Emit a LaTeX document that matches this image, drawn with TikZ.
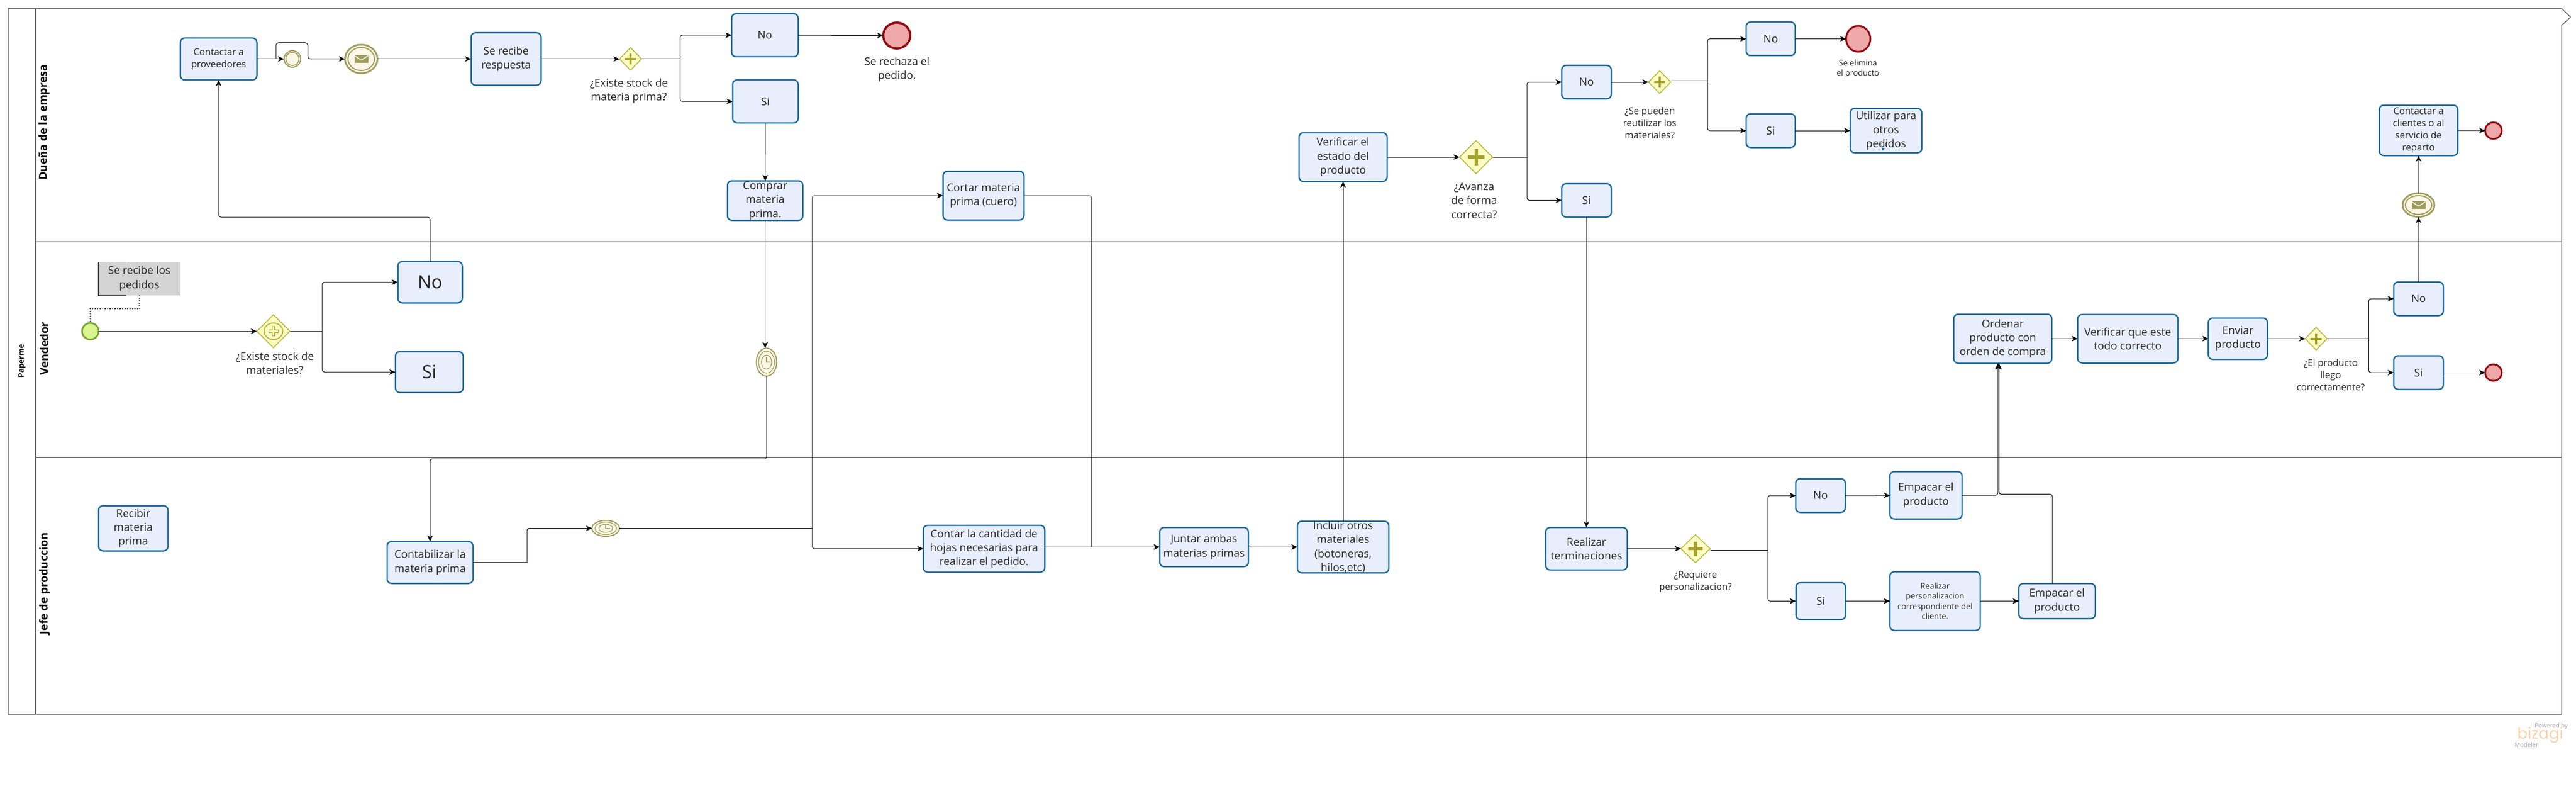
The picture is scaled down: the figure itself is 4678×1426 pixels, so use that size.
\documentclass[tikz,border=0pt]{standalone}
\usepackage{fontspec}
\setmainfont{Open Sans}
\newfontfamily\logofont{Poppins}
\usetikzlibrary{arrows.meta,shapes.geometric}
\definecolor{azul}{HTML}{1B6A9A}
\definecolor{celeste}{HTML}{E9EEFC}
\definecolor{marco}{HTML}{555555}
\definecolor{oro}{HTML}{A09C60}
\definecolor{crema}{HTML}{FBF7E6}
\definecolor{amarillo}{HTML}{FBFBC4}
\definecolor{oliva}{HTML}{B8B840}
\definecolor{cruz}{HTML}{A5A52A}
\definecolor{rojo}{HTML}{8E0B12}
\definecolor{rosa}{HTML}{EFA8A8}
\definecolor{verde}{HTML}{76A52F}
\definecolor{lima}{HTML}{DAF58F}
\definecolor{naranja}{HTML}{F9D2AC}
\tikzset{
  f13/.style  = {font=\fontsize{14.5}{18.5}\selectfont},
  f16/.style  = {font=\fontsize{17}{21.8}\selectfont},
  f19/.style  = {font=\fontsize{19.5}{25.3}\selectfont},
  f33/.style  = {font=\fontsize{33}{40}\selectfont},
  tarea/.style = {draw=azul, fill=celeste, line width=2.5pt, rounded corners=8pt,
                  align=center, inner sep=0pt, outer sep=0pt, text=black!85},
  texto/.style = {align=center, inner sep=0pt, text=black!85},
  carril/.style = {inner sep=0pt, rotate=90, font=\fontsize{20}{24}\bfseries\selectfont},
  puerta/.style = {draw=oliva, fill=amarillo, line width=1.6pt, diamond, aspect=1,
                   inner sep=0pt, outer sep=0pt},
  evento/.style = {ellipse, inner sep=0pt, outer sep=0pt},
  inicio/.style = {evento, draw=verde, fill=lima, line width=3pt},
  fin/.style    = {evento, draw=rojo, fill=rosa, line width=3.2pt},
  medio/.style  = {evento, draw=oro, fill=crema, line width=2pt},
  aro/.style    = {draw=oro, line width=1.6pt},
  linea/.style  = {draw=black, line width=1pt, rounded corners=4pt},
  flecha/.style = {linea, -{Stealth[length=11pt,width=10pt,inset=3pt]}},
  borde/.style  = {draw=marco, line width=1.3pt}
}

\begin{document}
\begin{tikzpicture}[x=1pt,y=-1pt]
\useasboundingbox (0,0) rectangle (4678,1426);

% pool y carriles
\draw[borde] (15,15.5) -- (4652,15.5) -- (4668,31) -- (4652,46) -- (4652,1296) -- (15,1296) -- cycle;
\draw[borde] (65,15.5) -- (65,1296);
\draw[borde] (65,438.5) -- (4652,438.5);
\draw[borde] (65,830) -- (4652,830);
\node[carril, font=\fontsize{13.5}{16}\bfseries\selectfont] (pool) at (40,655) {Paperme};
\node[carril] (lane1) at (80,222) {Dueña de la empresa};
\node[carril] (lane2) at (80,632) {Vendedor};
\node[carril] (lane3) at (81,1059) {Jefe de produccion};

% carril de la dueña
\node[tarea, f16, minimum width=139, minimum height=76] (contactar) at (397,107) {Contactar a\\proveedores};
\node[medio, minimum width=30, minimum height=30] (ev0) at (531,107) {};
\node[medio, line width=3pt, minimum width=59, minimum height=52] (correo1) at (656,107) {};
\node[tarea, f19, minimum width=127, minimum height=95] (recibe) at (919,107) {Se recibe\\respuesta};
\node[puerta, minimum width=40, minimum height=41] (g1) at (1145,107) {};
\node[texto, f19] (tg1) at (1142,165) {¿Existe stock de\\materia prima?};
\node[tarea, f19, minimum width=121, minimum height=78] (no1) at (1389,64) {No};
\node[tarea, f19, minimum width=119, minimum height=78] (si1) at (1390,184) {Si};
\node[fin, line width=4pt, minimum width=49, minimum height=47] (fin1) at (1628.5,64.5) {};
\node[texto, f19] (tfin1) at (1629,126) {Se rechaza el\\pedido.};
\node[tarea, f19, minimum width=137, minimum height=71.5] (comprar) at (1389.5,364) {Comprar\\materia\\prima.};
\node[tarea, f19, minimum width=147, minimum height=88.5] (cortar) at (1786,355) {Cortar materia\\prima (cuero)};
\node[tarea, f19, minimum width=160, minimum height=88.5] (verificar) at (2439,285) {Verificar el\\estado del\\producto};
\node[puerta, minimum width=60, minimum height=60] (ga) at (2680.5,285) {};
\node[texto, f19] (tga) at (2677,364) {¿Avanza\\de forma\\correcta?};
\node[tarea, f19, minimum width=90, minimum height=60.5] (no2) at (2881,149) {No};
\node[tarea, f19, minimum width=90, minimum height=60.5] (si2) at (2881,363.5) {Si};
\node[puerta, minimum width=41, minimum height=41] (gr) at (3014,149) {};
\node[texto, f16] (tgr) at (2996,223) {¿Se pueden\\reutilizar los\\materiales?};
\node[tarea, f19, minimum width=89, minimum height=61] (no3) at (3215.5,70.5) {No};
\node[tarea, f19, minimum width=89, minimum height=61] (si3) at (3215.5,237) {Si};
\node[fin, minimum width=44, minimum height=47] (fin2) at (3374.5,70.5) {};
\node[texto, f13] (tfin2) at (3374,124.5) {Se elimina\\el producto};
\node[tarea, f19, minimum width=130, minimum height=80.5] (utilizar) at (3425,237) {Utilizar para\\otros\\pedidos};
\node[tarea, f16, minimum width=142.5, minimum height=91.5] (clientes) at (4392,236.5) {Contactar a\\clientes o al\\servicio de\\reparto};
\node[fin, minimum width=30, minimum height=30] (fin3) at (4528,237) {};
\node[medio, line width=3pt, minimum width=58, minimum height=43] (correo2) at (4392,372) {};

% carril del vendedor
\node[fill=black!17, inner sep=0pt, outer sep=0pt, minimum width=150, minimum height=61, align=center, f19, text=black!85] (anota) at (253,505.5) {Se recibe los\\pedidos};
\node[inicio, minimum width=30, minimum height=30] (arranque) at (164,601) {};
\node[puerta, minimum width=60, minimum height=60] (gv) at (496.5,601) {};
\node[texto, f19] (tgv) at (499,659) {¿Existe stock de\\materiales?};
\node[tarea, f33, minimum width=117, minimum height=75] (nov) at (781,512) {No};
\node[tarea, f33, minimum width=123, minimum height=74] (siv) at (779.5,675) {Si};
\node[medio, minimum width=37, minimum height=51] (tiempo1) at (1392,657) {};
\node[tarea, f19, minimum width=178, minimum height=89] (ordenar) at (3637,614.5) {Ordenar\\producto con\\orden de compra};
\node[tarea, f19, minimum width=182, minimum height=88] (revisar) at (3864,614.5) {Verificar que este\\todo correcto};
\node[tarea, f19, minimum width=107.5, minimum height=75] (enviar) at (4064,614.5) {Enviar\\producto};
\node[puerta, minimum width=40, minimum height=41] (ge) at (4206,614.5) {};
\node[texto, f16] (tge) at (4232.5,680) {¿El producto\\llego\\correctamente?};
\node[tarea, f19, minimum width=90, minimum height=61] (no5) at (4392,542) {No};
\node[tarea, f19, minimum width=90, minimum height=61] (si5) at (4392,676) {Si};
\node[fin, minimum width=30, minimum height=30] (fin4) at (4528,676) {};

% carril de produccion
\node[tarea, f19, minimum width=126, minimum height=82] (recibir) at (242,958.5) {Recibir\\materia\\prima};
\node[tarea, f19, minimum width=156, minimum height=76] (contabilizar) at (781,1020.5) {Contabilizar la\\materia prima};
\node[medio, minimum width=50, minimum height=29] (tiempo2) at (1100,958.5) {};
\node[tarea, f19, minimum width=220.5, minimum height=85] (contar) at (1787,995.5) {Contar la cantidad de\\hojas necesarias para\\realizar el pedido.};
\node[tarea, f19, minimum width=161, minimum height=71] (juntar) at (2186.5,992.5) {Juntar ambas\\materias primas};
\node[tarea, f19, minimum width=166, minimum height=92.5] (incluir) at (2439,992.5) {Incluir otros\\materiales\\(botoneras,\\hilos,etc)};
\node[tarea, f19, minimum width=148, minimum height=77] (terminar) at (2881,995.5) {Realizar\\terminaciones};
\node[puerta, minimum width=53, minimum height=51] (gp) at (3079,995.5) {};
\node[texto, f16] (tgp) at (3079,1055.5) {¿Requiere\\personalizacion?};
\node[tarea, f19, minimum width=90, minimum height=61] (no4) at (3306,899) {No};
\node[tarea, f19, minimum width=90, minimum height=67] (si4) at (3306.5,1090.5) {Si};
\node[tarea, f19, minimum width=131, minimum height=86] (empacar1) at (3497.5,898.5) {Empacar el\\producto};
\node[tarea, f13, minimum width=164, minimum height=106.5] (personal) at (3514,1090.5) {Realizar\\personalizacion\\correspondiente del\\cliente.};
\node[tarea, f19, minimum width=139, minimum height=63.5] (empacar2) at (3735.5,1090.5) {Empacar el\\producto};

% logo
\node[texto, text=black!35, font=\fontsize{11}{13}\selectfont] (powered) at (4633,1318) {Powered by};
\node[texto, text=naranja, font=\logofont\fontsize{28}{32}\selectfont] (bizagi) at (4613,1334) {bizagi};
\node[texto, text=black!35, font=\fontsize{11}{13}\selectfont] (modeler) at (4588,1351) {Modeler};

% detalles de los simbolos
\foreach \n/\s in {g1/10, ga/15, gr/10, gp/13, ge/10} {
  \draw[cruz, line width=0.4*\s pt] ([xshift=-\s pt]\n.center) -- ([xshift=\s pt]\n.center);
  \draw[cruz, line width=0.4*\s pt] ([yshift=-\s pt]\n.center) -- ([yshift=\s pt]\n.center);
}
\draw[oliva, line width=2pt] (gv) ellipse [x radius=17pt, y radius=15pt];
\draw[cruz, line width=6pt] ([xshift=-9pt]gv.center) -- ([xshift=9pt]gv.center);
\draw[cruz, line width=6pt] ([yshift=-9pt]gv.center) -- ([yshift=9pt]gv.center);
\draw[amarillo, line width=3.6pt] ([xshift=-8pt]gv.center) -- ([xshift=8pt]gv.center);
\draw[amarillo, line width=3.6pt] ([yshift=-8pt]gv.center) -- ([yshift=8pt]gv.center);
\draw[aro] (ev0) ellipse [x radius=12pt, y radius=12pt];
\foreach \n/\a/\b in {correo1/24/21, correo2/24/17} {
  \draw[aro, line width=2pt] (\n) ellipse [x radius=\a pt, y radius=\b pt];
  \begin{scope}[shift={(\n)}]
  \fill[oro] (-12.5,-7) rectangle (12.5,7);
  \draw[crema, line width=1.6pt] (-12.5,-6) -- (0,2) -- (12.5,-6);
  \end{scope}
}
\foreach \n/\a/\b in {tiempo1/18.5/25.5, tiempo2/25/14.5} {
  \draw[aro, line width=1.3pt] (\n) ellipse [x radius=0.78*\a pt, y radius=0.78*\b pt];
  \draw[aro, line width=1.3pt] (\n) ellipse [x radius=0.5*\a pt, y radius=0.5*\b pt];
  \draw[aro, line width=1.1pt] ([yshift=0.35*\b pt]\n.center) -- (\n.center) -- ([xshift=0.3*\a pt]\n.center);
}
\begin{scope}[shift={(utilizar)}]
  \fill[azul] (-7,31) rectangle (-3,36);
  \draw[black!60, line width=1pt] (-9,28) arc [start angle=200, end angle=160, radius=8pt];
  \draw[black!60, line width=1pt] (-1,28) arc [start angle=-20, end angle=20, radius=8pt];
\end{scope}

% nota
\draw[black, line width=1pt] ([xshift=51pt]anota.north west) -- (anota.north west) -- (anota.south west) -- ([xshift=51pt]anota.south west);
\draw[black, line width=1.2pt, dash pattern=on 1.2pt off 3.3pt] (anota.south) -- ++(0,24) -| (arranque.north);

% conectores rectos
\foreach \a/\b in {contactar/ev0, correo1/recibe, recibe/g1, no1/fin1, si1/comprar,
                   verificar/ga, no2/gr, no3/fin2, si3/utilizar, clientes/fin3,
                   arranque/gv, ordenar/revisar, revisar/enviar, enviar/ge, si5/fin4,
                   no5/correo2, correo2/clientes, si2/terminar, juntar/incluir,
                   incluir/verificar, terminar/gp, no4/empacar1, si4/personal, personal/empacar2}
  \draw[flecha] (\a) -- (\b);

% bifurcaciones
\coordinate (r1) at (1235,107);
\coordinate (rv) at (585,601);
\coordinate (ra) at (2773,285);
\coordinate (rr) at (3101,147);
\coordinate (rp) at (3210.5,998);
\coordinate (re) at (4301.5,614.5);
\foreach \r/\g/\a/\b in {r1/g1/no1/si1, rv/gv/nov/siv, ra/ga/no2/si2, rr/gr/no3/si3, rp/gp/no4/si4, re/ge/no5/si5} {
  \draw[linea] (\g.east |- \r) -- (\r);
  \draw[flecha] (\r) |- (\a.west);
  \draw[flecha] (\r) |- (\b.west);
}

% recorridos largos
\coordinate (lazoa) at (501,107);
\coordinate (lazob) at (559,107);
\coordinate (subida) at (397,394);
\coordinate (techo) at (781,832.5);
\coordinate (sube) at (957,1020.5);
\coordinate (rz) at (1475,958.5);
\coordinate (junta) at (1982,992.5);
\coordinate (paquete) at (3630,896.5);
\draw[flecha, rounded corners=5pt] (lazoa) |- ([yshift=29.5pt]lazob) -- (lazob) -- (correo1);
\draw[flecha] (nov.north) |- (subida) -- (contactar.south);
\draw[flecha] (comprar.south) -- (comprar.south |- tiempo1.north);
\draw[flecha] (tiempo1.south) |- (techo) -- (contabilizar.north);
\draw[linea] (contabilizar.east) -- (sube);
\draw[flecha] (sube) |- (tiempo2.west);
\draw[linea] (tiempo2.east) -- (rz);
\draw[flecha] (rz) |- (cortar.west);
\draw[flecha] (rz) |- (contar.west);
\draw[linea] (cortar.east) -| (junta);
\draw[flecha] (contar.east |- juntar) -- (juntar.west);
\draw[flecha] (empacar1.east) -| ([xshift=-9pt]ordenar.south);
\draw[flecha] ([xshift=-8.5pt]empacar2.north) |- (paquete) -- ([xshift=-7pt]ordenar.south);
\end{tikzpicture}
\end{document}
